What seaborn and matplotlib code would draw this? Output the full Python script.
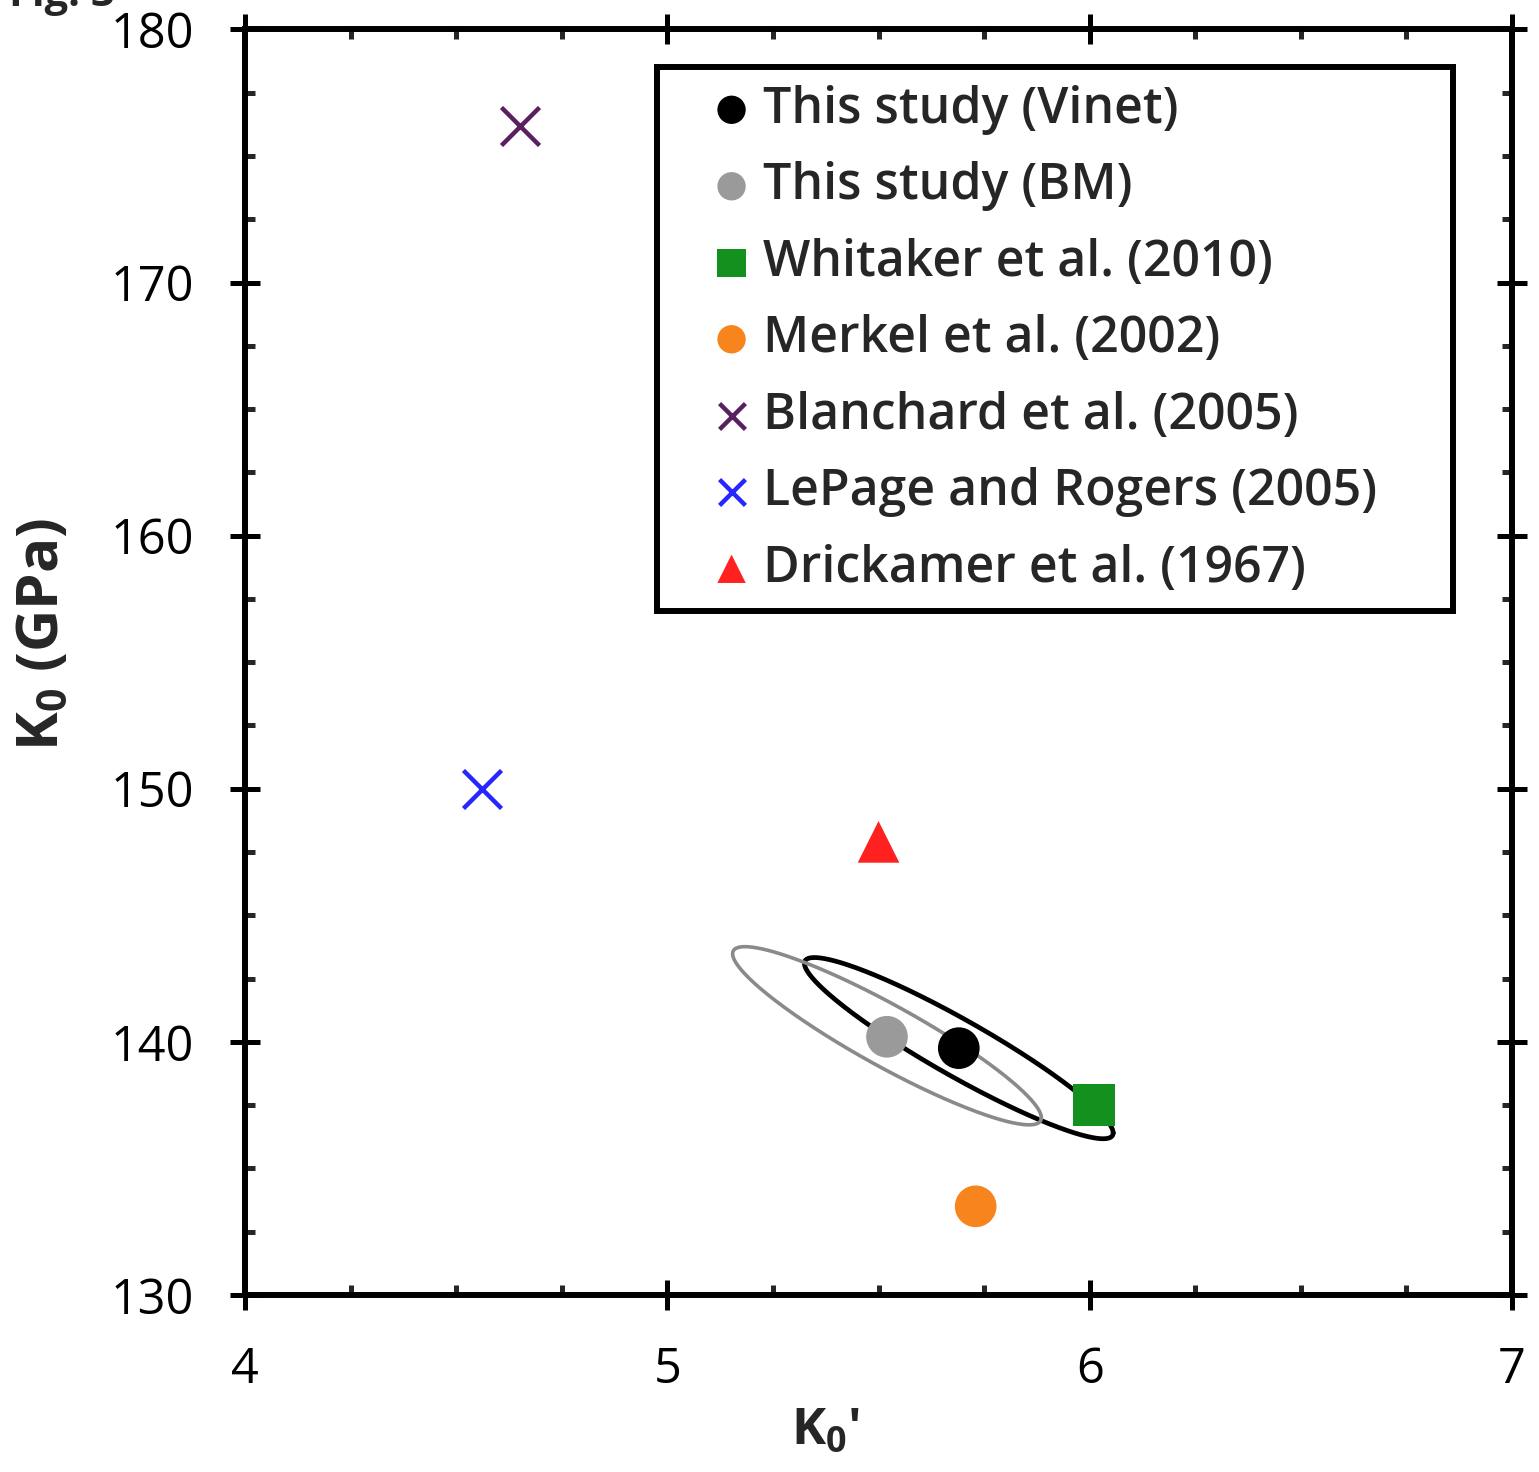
import numpy as np
import pandas as pd
import matplotlib
matplotlib.use("Agg")
import matplotlib.pyplot as plt
import seaborn as sns

# Equation-of-state parameters from this study and earlier work
studies = [
    "This study (Vinet)",
    "This study (BM)",
    "Whitaker et al. (2010)",
    "Merkel et al. (2002)",
    "Blanchard et al. (2005)",
    "LePage and Rogers (2005)",
    "Drickamer et al. (1967)",
]
k0_prime = [5.69, 5.52, 6.01, 5.73, 4.65, 4.56, 5.50]
k0_gpa = [139.75, 140.2, 137.5, 133.5, 176.2, 150.0, 147.9]
colors = ["#000000", "#9a9a9a", "#14901e", "#f7841c", "#5a1f5e", "#2626ff", "#ff2020"]
markers = ["o", "o", "s", "o", "x", "x", "^"]

# Confidence ellipses for the two fits of this study
ell_names = ["Vinet", "BM"]
ell_cx = [5.69, 5.52]
ell_cy = [139.75, 140.24]
ell_sx = [0.3655, 0.3655]
ell_sy = [3.58, 3.52]
ell_rho = [-0.935, -0.92]
ell_colors = ["#000000", "#8a8a8a"]
ell_widths = [3.4, 2.6]

sns.set_style("ticks")
plt.rcParams["font.family"] = ["Open Sans", "DejaVu Sans"]
plt.rcParams["mathtext.fontset"] = "custom"
plt.rcParams["mathtext.rm"] = "Open Sans"
plt.rcParams["mathtext.bf"] = "Open Sans:bold"
plt.rcParams["mathtext.it"] = "Open Sans:italic"

df = pd.DataFrame({"study": studies, "kp": k0_prime, "k0": k0_gpa})

fig = plt.figure(figsize=(15.39, 14.72), dpi=100)
ax = fig.add_axes([0.1592, 0.1203, 0.8233, 0.8597])

# figure caption, mostly above the page edge
fig.text(0.006, 0.9962, "Fig. 3", fontsize=30, fontweight="bold", ha="left", va="baseline")

# error ellipses (parametric form with correlation)
t = np.linspace(0, 2 * np.pi, 400)
for cx, cy, sx, sy, rho, c, lw in zip(ell_cx, ell_cy, ell_sx, ell_sy, ell_rho, ell_colors, ell_widths):
    phi = np.arccos(rho)
    ax.plot(cx + sx * np.cos(t), cy + sy * np.cos(t + phi), color=c, lw=lw, zorder=2)

for i, row in df.iterrows():
    m = markers[i]
    kw = dict(s=900, edgecolor="none")
    if m == "x":
        kw = dict(s=750, linewidth=3.2)
    sns.scatterplot(data=df.iloc[[i]], x="kp", y="k0", marker=m, color=colors[i],
                    label=row["study"], ax=ax, zorder=3, **kw)

ax.set_xlim(4, 7)
ax.set_ylim(130, 180)
ax.set_xticks([4, 5, 6, 7])
ax.set_yticks([130, 140, 150, 160, 170, 180])
ax.set_xticks(np.arange(4, 7.01, 0.25), minor=True)
ax.set_yticks(np.arange(130, 180.01, 2.5), minor=True)

for s in ax.spines.values():
    s.set_linewidth(4.3)
    s.set_color("black")

ax.tick_params(which="major", direction="inout", length=21, width=3.6, pad=26,
               labelsize=35, top=True, right=True, colors="black")
ax.tick_params(which="minor", direction="in", length=7, width=3.6, top=True, right=True)

ax.set_xlabel("K$_\\mathbf{0}$'", fontsize=37, fontweight="bold")
ax.set_ylabel("K$_\\mathbf{0}$ (GPa)", fontsize=42, fontweight="bold")
ax.xaxis.set_label_coords(0.458, -0.0885)
ax.yaxis.set_label_coords(-0.1365, 0.522)

# legend frame spans a fixed box; markers sit well inside the left edge
leg = ax.legend(loc="upper left", bbox_to_anchor=(0.3252, 0.0, 0.6282, 0.970),
                mode="expand", borderaxespad=0,
                prop={"size": 36, "weight": "semibold"}, frameon=True, fancybox=False,
                markerscale=0.68, handlelength=2.28, handletextpad=-0.52,
                labelspacing=0.53, borderpad=0.35)
leg.get_frame().set_edgecolor("black")
leg.get_frame().set_linewidth(4.3)
leg.get_frame().set_alpha(1)

fig.savefig("out.png", dpi=100)
